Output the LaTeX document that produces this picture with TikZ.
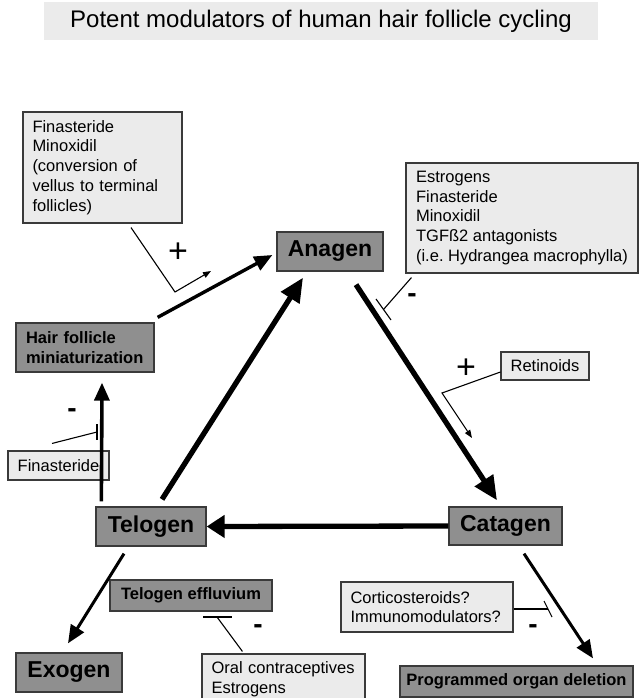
\documentclass[tikz,border=0pt]{standalone}
\usepackage{fontspec}
\setmainfont{Liberation Sans}
\usetikzlibrary{arrows.meta,calc}
\definecolor{darkbox}{HTML}{8F8F8F}
\definecolor{lightbox}{HTML}{EBEBEB}
\definecolor{edge}{HTML}{3A3A3A}
\frenchspacing
\tikzset{
  stagebox/.style={draw=edge,line width=1.3pt,fill=darkbox,inner sep=0pt,font=\fontsize{23}{26}\selectfont\bfseries},
  smallstage/.style={draw=edge,line width=1.3pt,fill=darkbox,inner sep=0pt,font=\fontsize{16.5}{20}\selectfont\bfseries},
  modbox/.style={draw=edge,line width=1.1pt,fill=lightbox,inner xsep=9.5pt,inner ysep=0pt,align=left,font=\fontsize{16.5}{19.8}\selectfont},
  bigarrow/.style={line width=5.3pt,-{Triangle[length=24pt,width=21pt]}},
  midarrow/.style={line width=3.4pt,-{Triangle[length=18pt,width=15pt]}},
  modline/.style={line width=1.1pt},
  modarrow/.style={line width=1.1pt,-{Triangle[length=8pt,width=6pt]}},
  plussign/.style={font=\fontsize{34}{34}\selectfont,inner sep=0pt},
  minussign/.style={font=\fontsize{28}{28}\selectfont\bfseries,inner sep=0pt},
}
\begin{document}
\begin{tikzpicture}[x=1pt,y=-1pt]
\useasboundingbox (0,0) rectangle (639,698);
\clip (0,0) rectangle (639,698);
% title
\node[fill=lightbox,minimum width=554pt,minimum height=38pt,inner sep=0pt,font=\fontsize{24}{28}\selectfont] (title) at (321,21) {Potent modulators of human hair follicle cycling};
% stage boxes
\node[stagebox,minimum width=106pt,minimum height=39pt] (anagen) at (330,251.5) {Anagen};
\node[stagebox,minimum width=110pt,minimum height=39pt] (telogen) at (151,526.5) {Telogen};
\node[stagebox,minimum width=113pt,minimum height=38pt] (catagen) at (505.5,526) {Catagen};
\node[stagebox,minimum width=106pt,minimum height=39pt] (exogen) at (69,672.5) {Exogen};
\node[smallstage,minimum width=138pt,minimum height=49pt,align=left,text width=118pt] (hfm) at (85,347.5) {Hair follicle\\miniaturization};
\node[smallstage,minimum width=162pt,minimum height=31pt] (effl) at (191,595.5) {Telogen effluvium};
\node[smallstage,minimum width=233pt,minimum height=31pt] (pod) at (516.5,681.5) {Programmed organ deletion};
% modulator boxes
\node[modbox,minimum width=159pt,minimum height=111pt,text width=140pt] (modA) at (102.5,167.5) {Finasteride\\Minoxidil\\(conversion of\\vellus to terminal\\follicles)};
\node[modbox,minimum width=232pt,minimum height=110pt,inner xsep=0pt] (modB) at (522,218) {Estrogens\\Finasteride\\Minoxidil\\TGFß2 antagonists\\(i.e. Hydrangea macrophylla)};
\node[modbox,minimum width=88pt,minimum height=28pt,inner xsep=0pt,align=center] (ret) at (545,366) {Retinoids};
\node[modbox,minimum width=101pt,minimum height=29pt,inner xsep=0pt,align=center] (fin) at (58.5,465.5) {Finasteride};
\node[modbox,minimum width=172pt,minimum height=50pt,text width=153pt] (cort) at (427,607) {Corticosteroids?\\Immunomodulators?};
\node[modbox,minimum width=163pt,minimum height=50pt,text width=144pt] (oral) at (283.5,679) {Oral contraceptives\\Estrogens};
% main cycle arrows
\draw[bigarrow] ($(telogen.north)+(11,-7)$) -- ($(anagen.south)+(-27,6)$);
\draw[bigarrow] ($(anagen.south)+(26,13)$) -- ($(catagen.north)+(-8.5,-6)$);
\draw[bigarrow,-{Triangle[length=18pt,width=22pt]}] (catagen.west) -- (telogen.east);
\draw[midarrow] ($(hfm.north east)+(3,-5)$) -- ($(anagen.west)+(-4,3.5)$);
\draw[midarrow,line width=3.6pt] ($(telogen.north west)+(6,-5)$) -- ($(hfm.south)+(17,10)$);
\draw[midarrow,line width=3pt] ($(telogen.south)+(-27,7)$) -- ($(exogen.north)+(-1,-9)$);
\draw[midarrow,line width=3pt] ($(catagen.south)+(18.5,8)$) -- ($(pod.north)+(76.5,-7)$);
% modulator: modA (+)
\coordinate (aK) at (175,292);
\coordinate (aE) at (211,271);
\draw[modarrow] ($(modA.south)+(28.5,4)$) -- (aK) -- (aE);
\node[plussign] (plusA) at (178,253) {+};
% modulator: modB (-)
\coordinate (bM) at (383.5,309.5);
\coordinate (b1) at (376,299);
\coordinate (b2) at (391,320);
\draw[modline] ($(modB.south west)+(6,4)$) -- (bM);
\draw[modline] (b1) -- (b2);
\node[minussign] (minusB) at (412,298) {-};
% modulator: retinoids (+)
\coordinate (rK) at (442,393);
\coordinate (rE) at (472,438);
\draw[modarrow] ($(ret.west)+(0,6)$) -- (rK) -- (rE);
\node[plussign] (plusR) at (466,369) {+};
% modulator: finasteride (-)
\coordinate (fM) at (97,432);
\coordinate (f1) at (97,424);
\coordinate (f2) at (97,440);
\draw[modline] ($(fin.north)+(-6.5,-7)$) -- (fM);
\draw[modline] (f1) -- (f2);
\node[minussign] (minusF) at (72,413) {-};
% modulator: oral contraceptives (-)
\coordinate (oM) at (217,617);
\coordinate (o1) at (203,617);
\coordinate (o2) at (232,617);
\draw[modline] ($(oral.north west)+(41,-2)$) -- (oM);
\draw[modline] (o1) -- (o2);
\node[minussign] (minusO) at (258,629) {-};
% modulator: corticosteroids (-)
\coordinate (cM) at (548,609);
\coordinate (c1) at (544,601);
\coordinate (c2) at (552,617);
\draw[modline] ($(cort.east)+(0,2)$) -- (cM);
\draw[modline] (c1) -- (c2);
\node[minussign] (minusC) at (533,629) {-};
\end{tikzpicture}
\end{document}
